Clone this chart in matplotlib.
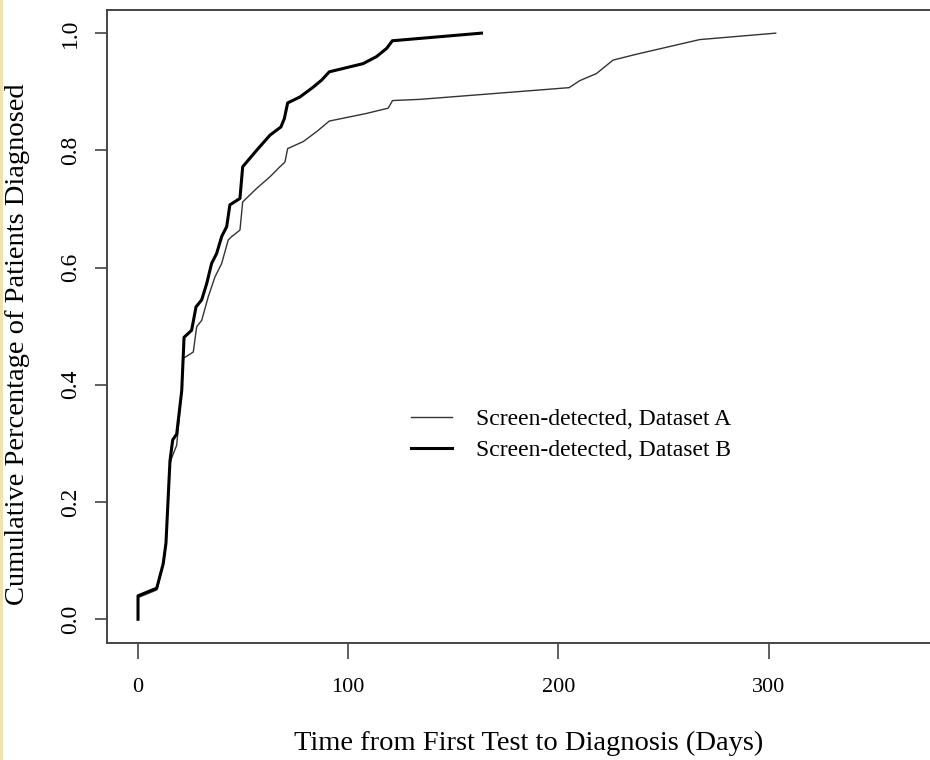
import matplotlib
matplotlib.use("Agg")
import matplotlib.pyplot as plt
from matplotlib.patches import Rectangle

plt.rcParams['font.family'] = ['Liberation Serif', 'DejaVu Serif']

# Dataset A (thin line)
days_a = [0, 0, 8.9, 12, 13.3, 15.2, 16, 18.4, 20.8, 21.5, 26.3, 27.9, 30.3, 33.4,
          36.6, 39.8, 42.9, 44.6, 48.5, 49.8, 56.4, 62.8, 67.5, 69.9, 71.2, 78.6,
          85, 91, 108.7, 119, 121.1, 134, 205.1, 210.2, 218.1, 226, 237.1, 267.2, 303.4]
pct_a = [0, 0.037, 0.050, 0.093, 0.128, 0.265, 0.275, 0.297, 0.39, 0.445, 0.456,
         0.499, 0.51, 0.55, 0.584, 0.607, 0.647, 0.653, 0.664, 0.712, 0.735, 0.755,
         0.772, 0.780, 0.803, 0.815, 0.832, 0.85, 0.863, 0.872, 0.885, 0.887,
         0.907, 0.919, 0.931, 0.954, 0.964, 0.989, 1.0]

# Dataset B (thick line)
days_b = [0, 0, 8.9, 12, 13.3, 15.2, 16.5, 18.4, 20.8, 21.9, 25.5, 27.6, 30.3, 32.7,
          35, 37.4, 39.8, 42.2, 43.7, 48.5, 49.8, 56.4, 62.8, 68, 69.6, 71.2, 77,
          83.4, 87.4, 91, 107.1, 113.5, 118.3, 121, 134, 163.4]
pct_b = [0, 0.040, 0.053, 0.095, 0.13, 0.27, 0.306, 0.316, 0.39, 0.481, 0.493,
         0.533, 0.545, 0.573, 0.607, 0.624, 0.653, 0.670, 0.707, 0.718, 0.772,
         0.800, 0.826, 0.840, 0.854, 0.881, 0.891, 0.908, 0.920, 0.934, 0.948,
         0.960, 0.974, 0.987, 0.991, 1.0]

labels = ["Screen-detected, Dataset A", "Screen-detected, Dataset B"]
x_ticks = [0, 100, 200, 300]
y_ticks = [0.0, 0.2, 0.4, 0.6, 0.8, 1.0]

W, H = 930, 760
fig = plt.figure(figsize=(W / 100, H / 100), dpi=100)
fig.patches.append(Rectangle((0, 0), 3 / W, 1, transform=fig.transFigure,
                             facecolor='#f1e2b4', edgecolor='none'))

left, right, top, bottom = 106.7, 951, 9.7, 642.7
ax = fig.add_axes([left / W, 1 - bottom / H, (right - left) / W, (bottom - top) / H])

l1, = ax.plot(days_a, pct_a, color='#333333', lw=1.0)
l2, = ax.plot(days_b, pct_b, color='black', lw=2.2)

ax.set_xlim(-14.9, 386.8)
ax.set_ylim(-0.04, 1.04)

for s in ['left', 'bottom', 'top']:
    ax.spines[s].set_color('#444444')
    ax.spines[s].set_linewidth(1.4)
ax.spines['right'].set_visible(False)

ax.set_xticks(x_ticks)
ax.set_xticklabels([str(v) for v in x_ticks])
ax.set_yticks(y_ticks)
ax.set_yticklabels([f"{v:.1f}" for v in y_ticks], rotation=90, va='center')
ax.tick_params(axis='x', length=11.5, width=1.2, color='#444444', labelsize=16, pad=14)
ax.tick_params(axis='y', length=8.6, width=1.2, color='#444444', labelsize=17, pad=10)

ax.set_xlabel("Time from First Test to Diagnosis (Days)", fontsize=20.5, labelpad=24)
ax.set_ylabel("Cumulative Percentage of Patients Diagnosed", fontsize=20.5)
ax.yaxis.set_label_coords(-0.091, 0.472)

ax.legend([l1, l2], labels, frameon=False, fontsize=17, loc='center left',
          bbox_to_anchor=(411 / W, 1 - 435 / H), bbox_transform=fig.transFigure,
          handlelength=1.75, handletextpad=1.0, labelspacing=0.42, borderpad=0,
          borderaxespad=0)

fig.savefig("out.png", dpi=100)
